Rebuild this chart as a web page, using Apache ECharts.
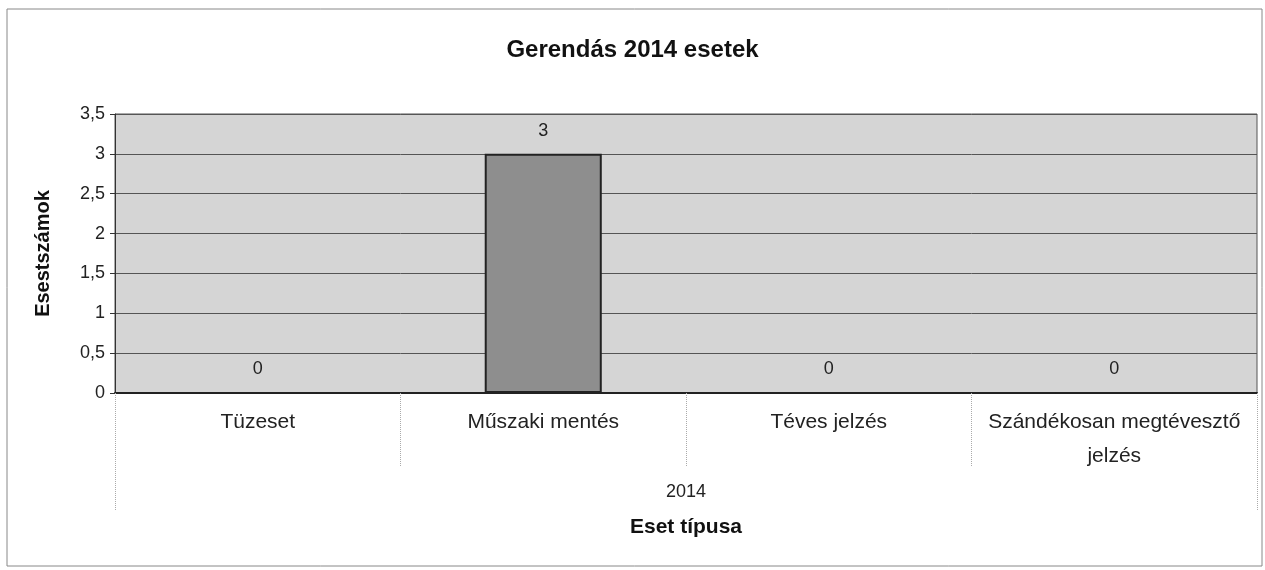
<!DOCTYPE html>
<html>
<head>
<meta charset="utf-8">
<script src="https://cdn.jsdelivr.net/npm/echarts@6/dist/echarts.min.js"></script>
<style>html,body{margin:0;padding:0;background:#fff;}#c{width:1265px;height:570px;}</style>
</head>
<body>
<div id="c"></div>
<script>
const categories = ['Tüzeset', 'Műszaki mentés', 'Téves jelzés', 'Szándékosan megtévesztő jelzés'];
const groupLabels = ['2014'];
const values = [0, 3, 0, 0];
const title = 'Gerendás 2014 esetek';
const yName = 'Esestszámok';
const xName = 'Eset típusa';

const chart = echarts.init(document.getElementById('c'));
const F = 'Liberation Sans, Arial, sans-serif';
chart.setOption({
  animation: false,
  backgroundColor: '#fff',
  title: {
    text: title, left: 'center', top: 33,
    textStyle: { fontFamily: F, fontSize: 24, fontWeight: 'bold', color: '#111' }
  },
  graphic: [{
    type: 'rect', shape: { x: 7, y: 9, width: 1255, height: 557 },
    style: { fill: 'none', stroke: '#888', lineWidth: 1 }, silent: true, z: -1
  }],
  grid: {
    left: 115, right: 8, top: 114, bottom: 177,
    show: true, backgroundColor: '#d5d5d5', borderColor: '#555', borderWidth: 1
  },
  xAxis: [{
    type: 'category', data: categories, position: 'bottom',
    axisLine: { show: true, lineStyle: { color: '#222', width: 2 } },
    axisTick: { show: true, length: 74, alignWithLabel: false, lineStyle: { color: '#aaa', type: 'dotted', width: 1 } },
    axisLabel: {
      interval: 0, margin: 12, fontFamily: F, fontSize: 21, color: '#222', lineHeight: 34,
      formatter: v => v.length > 20 ? v.replace(/ (\S+)$/, '\n$1') : v
    },
    splitLine: { show: false }
  }, {
    type: 'category', data: groupLabels, position: 'bottom',
    axisLine: { show: false },
    axisTick: { show: true, length: 117, lineStyle: { color: '#aaa', type: 'dotted', width: 1 } },
    axisLabel: { margin: 90, fontFamily: F, fontSize: 18, color: '#222' },
    name: xName, nameLocation: 'middle', nameGap: 124,
    nameTextStyle: { fontFamily: F, fontSize: 21, fontWeight: 'bold', color: '#111' }
  }],
  yAxis: {
    type: 'value', min: 0, max: 3.5, interval: 0.5,
    name: yName, nameLocation: 'middle', nameGap: 62,
    nameTextStyle: { fontFamily: F, fontSize: 20, fontWeight: 'bold', color: '#111' },
    axisLine: { show: true, lineStyle: { color: '#333', width: 1 } },
    axisTick: { show: true, length: 5, lineStyle: { color: '#333' } },
    axisLabel: {
      fontFamily: F, fontSize: 18, color: '#222', margin: 10,
      formatter: v => String(v).replace('.', ',')
    },
    splitLine: { show: true, lineStyle: { color: '#555', width: 1 } }
  },
  series: [{
    type: 'bar', data: values, xAxisIndex: 0, barWidth: '41%',
    itemStyle: { color: '#8e8e8e', borderColor: '#222', borderWidth: 2 },
    label: {
      show: true, position: 'top', distance: 14,
      fontFamily: F, fontSize: 18, color: '#222'
    }
  }]
});
</script>
</body>
</html>
